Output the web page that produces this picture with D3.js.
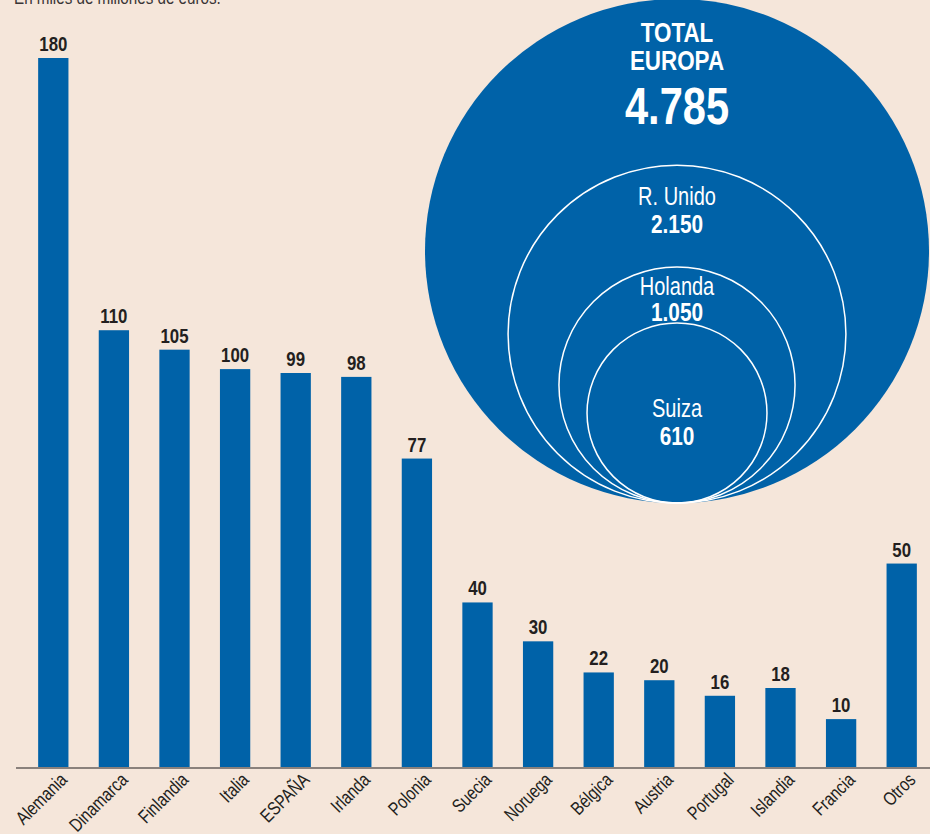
<!DOCTYPE html>
<html>
<head>
<meta charset="utf-8">
<script src="https://cdn.jsdelivr.net/npm/d3@7"></script>
<style>
  body { margin: 0; background: #f5e6da; }
  text { font-family: "Liberation Sans", "DejaVu Sans", sans-serif; }
</style>
</head>
<body>
<script>
var width = 930;
var height = 834;

var paises = ["Alemania", "Dinamarca", "Finlandia", "Italia", "ESPAÑA", "Irlanda", "Polonia",
  "Suecia", "Noruega", "Bélgica", "Austria", "Portugal", "Islandia", "Francia", "Otros"];
var valores = [180, 110, 105, 100, 99, 98, 77, 40, 30, 22, 20, 16, 18, 10, 50];

var circNombres = ["R. Unido", "Holanda", "Suiza"];
var circValores = [2150, 1050, 610];
var totalEuropa = 4785;

var azul = "#0062a8";
var tinta = "#231f20";
var estrecho = 0.8; // la fuente original es condensada

var svg = d3.select("body")
    .append("svg")
        .attr("width", width)
        .attr("height", height);

function pos(px, py) {
  return "translate(" + px + "," + py + ") scale(" + estrecho + ",1)";
}

// subtitulo, cortado arriba
svg.append("text")
    .attr("transform", pos(14, 4))
    .attr("font-size", 19)
    .attr("fill", "#3a3536")
    .text("En miles de millones de euros.");

var x = d3.scaleBand()
    .domain(paises)
    .range([23, 932])
    .paddingInner(0.5)
    .paddingOuter(0.25);

var ejeY = 767;
var y = d3.scaleLinear()
    .domain([0, 180])
    .range([758, 58]);

svg.selectAll("rect.bar")
    .data(valores)
    .enter().append("rect")
      .attr("class", "bar")
      .attr("x", function(d, i) { return x(paises[i]); })
      .attr("y", function(d) { return y(d); })
      .attr("width", x.bandwidth())
      .attr("height", function(d) { return ejeY - y(d); })
      .attr("fill", azul);

svg.selectAll("text.valor")
    .data(valores)
    .enter().append("text")
      .attr("class", "valor")
      .attr("transform", function(d, i) { return pos(x(paises[i]) + x.bandwidth() / 2, y(d) - 7); })
      .attr("text-anchor", "middle")
      .attr("font-size", 21)
      .attr("font-weight", "bold")
      .attr("fill", tinta)
      .text(function(d) { return d; });

// eje
svg.append("line")
    .attr("x1", 16).attr("x2", 930)
    .attr("y1", ejeY + 1).attr("y2", ejeY + 1)
    .attr("stroke", "#8a817c")
    .attr("stroke-width", 2);

svg.selectAll("text.pais")
    .data(paises)
    .enter().append("text")
      .attr("class", "pais")
      .attr("transform", function(d) {
        return "translate(" + (x(d) + x.bandwidth() / 2 + 15) + "," + 781 + ") rotate(-45) scale(" + estrecho + ",1)";
      })
      .attr("text-anchor", "end")
      .attr("font-size", 19)
      .attr("fill", tinta)
      .text(function(d) { return d; });

// circulos
var r = d3.scaleSqrt()
    .domain([0, totalEuropa])
    .range([0, 252]);

var cx = 677;
var base = 503;

svg.append("circle")
    .attr("cx", cx)
    .attr("cy", base - r(totalEuropa))
    .attr("r", r(totalEuropa))
    .attr("fill", azul);

svg.selectAll("circle.sub")
    .data(circValores)
    .enter().append("circle")
      .attr("class", "sub")
      .attr("cx", cx)
      .attr("cy", function(d) { return base - r(d); })
      .attr("r", function(d) { return r(d); })
      .attr("fill", "none")
      .attr("stroke", "#ffffff")
      .attr("stroke-width", 1.5);

var fmt = d3.formatLocale({ decimal: ",", thousands: ".", grouping: [3], currency: ["", "€"] }).format(",d");

svg.append("text")
    .attr("transform", pos(cx, 42))
    .attr("text-anchor", "middle").attr("font-size", 28).attr("font-weight", "bold")
    .attr("fill", "#fff").text("TOTAL");
svg.append("text")
    .attr("transform", pos(cx, 70))
    .attr("text-anchor", "middle").attr("font-size", 28).attr("font-weight", "bold")
    .attr("fill", "#fff").text("EUROPA");
svg.append("text")
    .attr("transform", pos(cx, 124))
    .attr("text-anchor", "middle").attr("font-size", 52).attr("font-weight", "bold")
    .attr("fill", "#fff").text(fmt(totalEuropa));

svg.selectAll("text.cnombre")
    .data(circNombres)
    .enter().append("text")
      .attr("class", "cnombre")
      .attr("transform", function(d, i) { return pos(cx, [205, 295, 417][i]); })
      .attr("text-anchor", "middle")
      .attr("font-size", 25)
      .attr("fill", "#fff")
      .text(function(d) { return d; });

svg.selectAll("text.cvalor")
    .data(circValores)
    .enter().append("text")
      .attr("class", "cvalor")
      .attr("transform", function(d, i) { return pos(cx, [233, 321, 445][i]); })
      .attr("text-anchor", "middle")
      .attr("font-size", 26)
      .attr("font-weight", "bold")
      .attr("fill", "#fff")
      .text(function(d) { return fmt(d); });
</script>
</body>
</html>
